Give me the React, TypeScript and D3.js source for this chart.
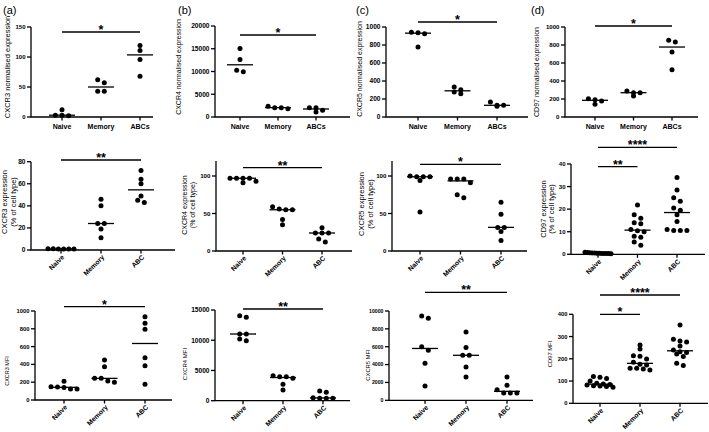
import React from "react";
import * as d3 from "d3";

const groupsNorm = ["Naive", "Memory", "ABCs"];
const groupsFlow = ["Naive", "Memory", "ABC"];

// row 1: normalised expression (4 donors)
const cxcr3Norm = [[12, 2, 3, 3], [62, 57, 43, 43], [119, 111, 96, 68]];
const cxcr4Norm = [[15070, 12650, 9930, 10300], [1840, 2350, 2060, 2060], [2060, 2060, 1100, 1470]];
const cxcr5Norm = [[937, 926, 941, 778], [304, 259, 333, 278], [167, 119, 130, 130]];
const cd97Norm = [[204, 141, 193, 178], [289, 233, 270, 270], [833, 852, 722, 526]];

// row 2: % of cell type
const cxcr3Pct = [[0.8, 1, 1.2, 0.9, 1.1, 1], [46, 40, 24, 24, 19, 11], [72, 64, 60, 49, 45, 43]];
const cxcr4Pct = [[97, 97, 97, 97, 91, 93], [55, 55, 56, 59, 42, 35], [31, 24, 24, 24, 16, 12]];
const cxcr5Pct = [[100, 99, 99, 99, 94, 52], [96, 91, 96, 96, 71, 75], [65, 49, 31.5, 31.5, 26, 14]];
const cd97Pct = [
  [0.5, 0.8, 0.3, 0.6, 0.4, 0.9, 0.2, 0.5, 0.7, 0.3, 0.4, 0.6],
  [21.8, 17.5, 16, 14, 13.5, 11, 10.4, 10, 8, 7.5, 5.5, 4],
  [34, 28.5, 25, 23.5, 20.5, 19.5, 17.5, 14.5, 11, 10.5, 10.5, 10.5],
];

// row 3: MFI
const cxcr3Mfi = [[210, 150, 125, 145, 140, 125], [450, 375, 243, 243, 213, 200], [936, 861, 794, 476, 386, 176]];
const cxcr4Mfi = [[13790, 14060, 11030, 11030, 9930, 10200], [3970, 4140, 3700, 3970, 2700, 1770], [1380, 1600, 400, 400, 400, 500]];
const cxcr5Mfi = [[9180, 9440, 6010, 5600, 4140, 1600], [7650, 5900, 5040, 5040, 3730, 2610], [2610, 1680, 1190, 820, 820, 820]];
const cd97Mfi = [
  [100, 112, 120, 117, 90, 87, 85, 82, 79, 75, 78, 72],
  [262, 244, 214, 211, 199, 184, 175, 172, 157, 157, 154, 150],
  [352, 288, 280, 275, 258, 240, 232, 228, 222, 210, 180, 170],
];

const panelLetters = ["(a)", "(b)", "(c)", "(d)"];

const FONT = "'Liberation Sans', Arial, Helvetica, sans-serif";
const R = 2.5;

type Sig = { from: number; to: number; y: number; label: string };
type Panel = {
  values: number[][];
  cats: string[];
  title: string[];
  max: number;
  ticks: number[];
  ax: number; y0: number; yTop: number;
  c0: number; c1: number; xEnd: number;
  rotate: boolean;
  titleX: number; titleY: number;
  tf: number; hf: number;
  sigs: Sig[];
};

const panels: Panel[] = [
  { values: cxcr3Norm, cats: groupsNorm, title: ["CXCR3 normalised expression"], max: 150, ticks: [0, 50, 100, 150],
    ax: 31, y0: 117, yTop: 27, c0: 62, c1: 140, xEnd: 153, rotate: false, titleX: 7, titleY: 67, tf: 6, hf: 7.5,
    sigs: [{ from: 0, to: 2, y: 32, label: "*" }] },
  { values: cxcr4Norm, cats: groupsNorm, title: ["CXCR4 normalised expression"], max: 20000, ticks: [0, 5000, 10000, 15000, 20000],
    ax: 215, y0: 117, yTop: 26, c0: 240, c1: 316, xEnd: 350, rotate: false, titleX: 179, titleY: 67, tf: 6.6, hf: 7,
    sigs: [{ from: 0, to: 2, y: 35, label: "*" }] },
  { values: cxcr5Norm, cats: groupsNorm, title: ["CXCR5 normalised expression"], max: 1000, ticks: [0, 200, 400, 600, 800, 1000],
    ax: 386, y0: 117, yTop: 27, c0: 418, c1: 497, xEnd: 528, rotate: false, titleX: 360, titleY: 69, tf: 6.6, hf: 7,
    sigs: [{ from: 0, to: 2, y: 22, label: "*" }] },
  { values: cd97Norm, cats: groupsNorm, title: ["CD97 normalised expression"], max: 1000, ticks: [0, 200, 400, 600, 800, 1000],
    ax: 565, y0: 117, yTop: 27, c0: 595, c1: 672, xEnd: 698, rotate: false, titleX: 537, titleY: 72, tf: 6.1, hf: 7,
    sigs: [{ from: 0, to: 2, y: 26, label: "*" }] },

  { values: cxcr3Pct, cats: groupsFlow, title: ["CXCR3 expression", "(% of cell type)"], max: 80, ticks: [0, 20, 40, 60, 80],
    ax: 31, y0: 250, yTop: 161.7, c0: 61, c1: 141, xEnd: 175, rotate: true, titleX: 9, titleY: 202, tf: 6.6, hf: 7.5,
    sigs: [{ from: 0, to: 2, y: 160, label: "**" }] },
  { values: cxcr4Pct, cats: groupsFlow, title: ["CXCR4 expression", "(% of cell type)"], max: 120, ticks: [0, 50, 100],
    ax: 216, y0: 251, yTop: 161, c0: 243, c1: 322, xEnd: 352, rotate: true, titleX: 188.5, titleY: 205, tf: 6.2, hf: 7,
    sigs: [{ from: 0, to: 2, y: 167.7, label: "**" }] },
  { values: cxcr5Pct, cats: groupsFlow, title: ["CXCR5 expression", "(% of cell type)"], max: 120, ticks: [0, 50, 100],
    ax: 392, y0: 251, yTop: 161, c0: 420, c1: 501, xEnd: 527, rotate: true, titleX: 366, titleY: 204, tf: 6.2, hf: 7.5,
    sigs: [{ from: 0, to: 2, y: 164.3, label: "*" }] },
  { values: cd97Pct, cats: groupsFlow, title: ["CD97 expression", "(% of cell type)"], max: 40, ticks: [0, 10, 20, 30, 40],
    ax: 571, y0: 254.3, yTop: 164, c0: 598, c1: 677, xEnd: 705, rotate: true, titleX: 547.5, titleY: 209, tf: 6, hf: 7.5,
    sigs: [{ from: 0, to: 1, y: 166.7, label: "**" }, { from: 0, to: 2, y: 147.3, label: "****" }] },

  { values: cxcr3Mfi, cats: groupsFlow, title: ["CXCR3 MFI"], max: 1000, ticks: [0, 200, 400, 600, 800, 1000],
    ax: 35, y0: 400, yTop: 311, c0: 64, c1: 145, xEnd: 172, rotate: true, titleX: 7, titleY: 371, tf: 5.8, hf: 5.5,
    sigs: [{ from: 0, to: 2, y: 306.7, label: "*" }] },
  { values: cxcr4Mfi, cats: groupsFlow, title: ["CXCR4 MFI"], max: 15000, ticks: [0, 5000, 10000, 15000],
    ax: 215, y0: 400.7, yTop: 310, c0: 243, c1: 323, xEnd: 350, rotate: true, titleX: 185, titleY: 364, tf: 6.6, hf: 6,
    sigs: [{ from: 0, to: 2, y: 309, label: "**" }] },
  { values: cxcr5Mfi, cats: groupsFlow, title: ["CXCR5 MFI"], max: 10000, ticks: [0, 2000, 4000, 6000, 8000, 10000],
    ax: 389, y0: 400.3, yTop: 311, c0: 425, c1: 507, xEnd: 533, rotate: true, titleX: 368, titleY: 365, tf: 5.2, hf: 5.8,
    sigs: [{ from: 0, to: 2, y: 292.3, label: "**" }] },
  { values: cd97Mfi, cats: groupsFlow, title: ["CD97 MFI"], max: 400, ticks: [0, 100, 200, 300, 400],
    ax: 573, y0: 403.3, yTop: 314.3, c0: 600, c1: 680, xEnd: 708, rotate: true, titleX: 550, titleY: 354, tf: 5.8, hf: 5.8,
    sigs: [{ from: 0, to: 1, y: 314.3, label: "*" }, { from: 0, to: 2, y: 295, label: "****" }] },
];

// prism-like scatter: points at similar heights are spread sideways, centred on the group
function swarm(vals: number[], y: d3.ScaleLinear<number, number>) {
  const pts = vals.map((v) => ({ v, py: y(v) })).sort((a, b) => a.py - b.py);
  const out: { py: number; dx: number }[] = [];
  let bin: { v: number; py: number }[] = [];
  const flush = () => {
    const n = bin.length;
    const step = n > 1 ? Math.min(2 * R + 1.6, 26 / (n - 1)) : 0;
    bin.forEach((p, k) => out.push({ py: p.py, dx: (k - (n - 1) / 2) * step }));
    bin = [];
  };
  for (const p of pts) {
    if (bin.length && p.py - bin[0].py > R * 1.6) flush();
    bin.push(p);
  }
  flush();
  return out;
}

function PanelChart({ p }: { p: Panel }) {
  const y = d3.scaleLinear().domain([0, p.max]).range([p.y0, p.yTop]);
  const x = d3.scalePoint<string>().domain(p.cats).range([p.c0, p.c1]);
  const line = d3.line();
  return (
    <g fill="#000">
      {/* axes */}
      <path d={line([[p.ax, y(p.max)], [p.ax, p.y0], [p.xEnd, p.y0]]) ?? ""} fill="none" stroke="#000" strokeWidth={1.3} />
      {p.ticks.map((t) => (
        <g key={t}>
          <line x1={p.ax - 4} x2={p.ax} y1={y(t)} y2={y(t)} stroke="#000" strokeWidth={1.3} />
          <text x={p.ax - 5.5} y={y(t)} dy="0.35em" textAnchor="end" fontSize={p.tf} fontWeight="bold"
            fontFamily={FONT}>{t}</text>
        </g>
      ))}
      {p.cats.map((c) => (
        <g key={c}>
          <line x1={x(c)} x2={x(c)} y1={p.y0} y2={p.y0 + 3.5} stroke="#000" strokeWidth={1.3} />
          {p.rotate ? (
            <text transform={`translate(${(x(c) ?? 0) + 2},${p.y0 + 6}) rotate(-45)`} dy="0.35em" textAnchor="end"
              fontSize={6.8} fontWeight="bold" fontFamily={FONT}>{c}</text>
          ) : (
            <text x={x(c)} y={p.y0 + 12} textAnchor="middle" fontSize={7} fontWeight="bold" fontFamily={FONT}>{c}</text>
          )}
        </g>
      ))}
      {/* y title */}
      <text transform={`translate(${p.titleX},${p.titleY}) rotate(-90)`} textAnchor="middle" fontSize={p.hf} fontFamily={FONT}>
        {p.title.map((s, i) => (
          <tspan key={i} x={0} dy={i === 0 ? (p.title.length > 1 ? "-0.25em" : "0.35em") : "1.15em"}>{s}</tspan>
        ))}
      </text>
      {/* points and medians */}
      {p.values.map((vals, gi) => {
        const cx = x(p.cats[gi]) ?? 0;
        const med = d3.median(vals) ?? 0;
        return (
          <g key={gi}>
            {swarm(vals, y).map((d, i) => (
              <circle key={i} cx={cx + d.dx} cy={d.py} r={R} fill="#000" />
            ))}
            <line x1={cx - 13} x2={cx + 13} y1={y(med)} y2={y(med)} stroke="#000" strokeWidth={1.3} />
          </g>
        );
      })}
      {/* significance bars */}
      {p.sigs.map((s, i) => {
        const x1 = x(p.cats[s.from]) ?? 0;
        const x2 = x(p.cats[s.to]) ?? 0;
        return (
          <g key={i}>
            <line x1={x1} x2={x2} y1={s.y} y2={s.y} stroke="#000" strokeWidth={1.3} />
            <text x={(x1 + x2) / 2} y={s.y + 2} textAnchor="middle" fontSize={12.5} fontWeight="bold" fontFamily={FONT}
              fill="#000">{s.label}</text>
          </g>
        );
      })}
    </g>
  );
}

export default function App() {
  const letterX = [3, 178, 356, 531];
  return (
    <div style={{ position: "fixed", left: 0, top: 0 }}>
      <svg width={709} height={432} style={{ display: "block", background: "#fff" }}>
        {panelLetters.map((l, i) => (
          <text key={l} x={letterX[i]} y={14} fontSize={11} fontFamily={FONT}>{l}</text>
        ))}
        {panels.map((p, i) => <PanelChart key={i} p={p} />)}
      </svg>
    </div>
  );
}
